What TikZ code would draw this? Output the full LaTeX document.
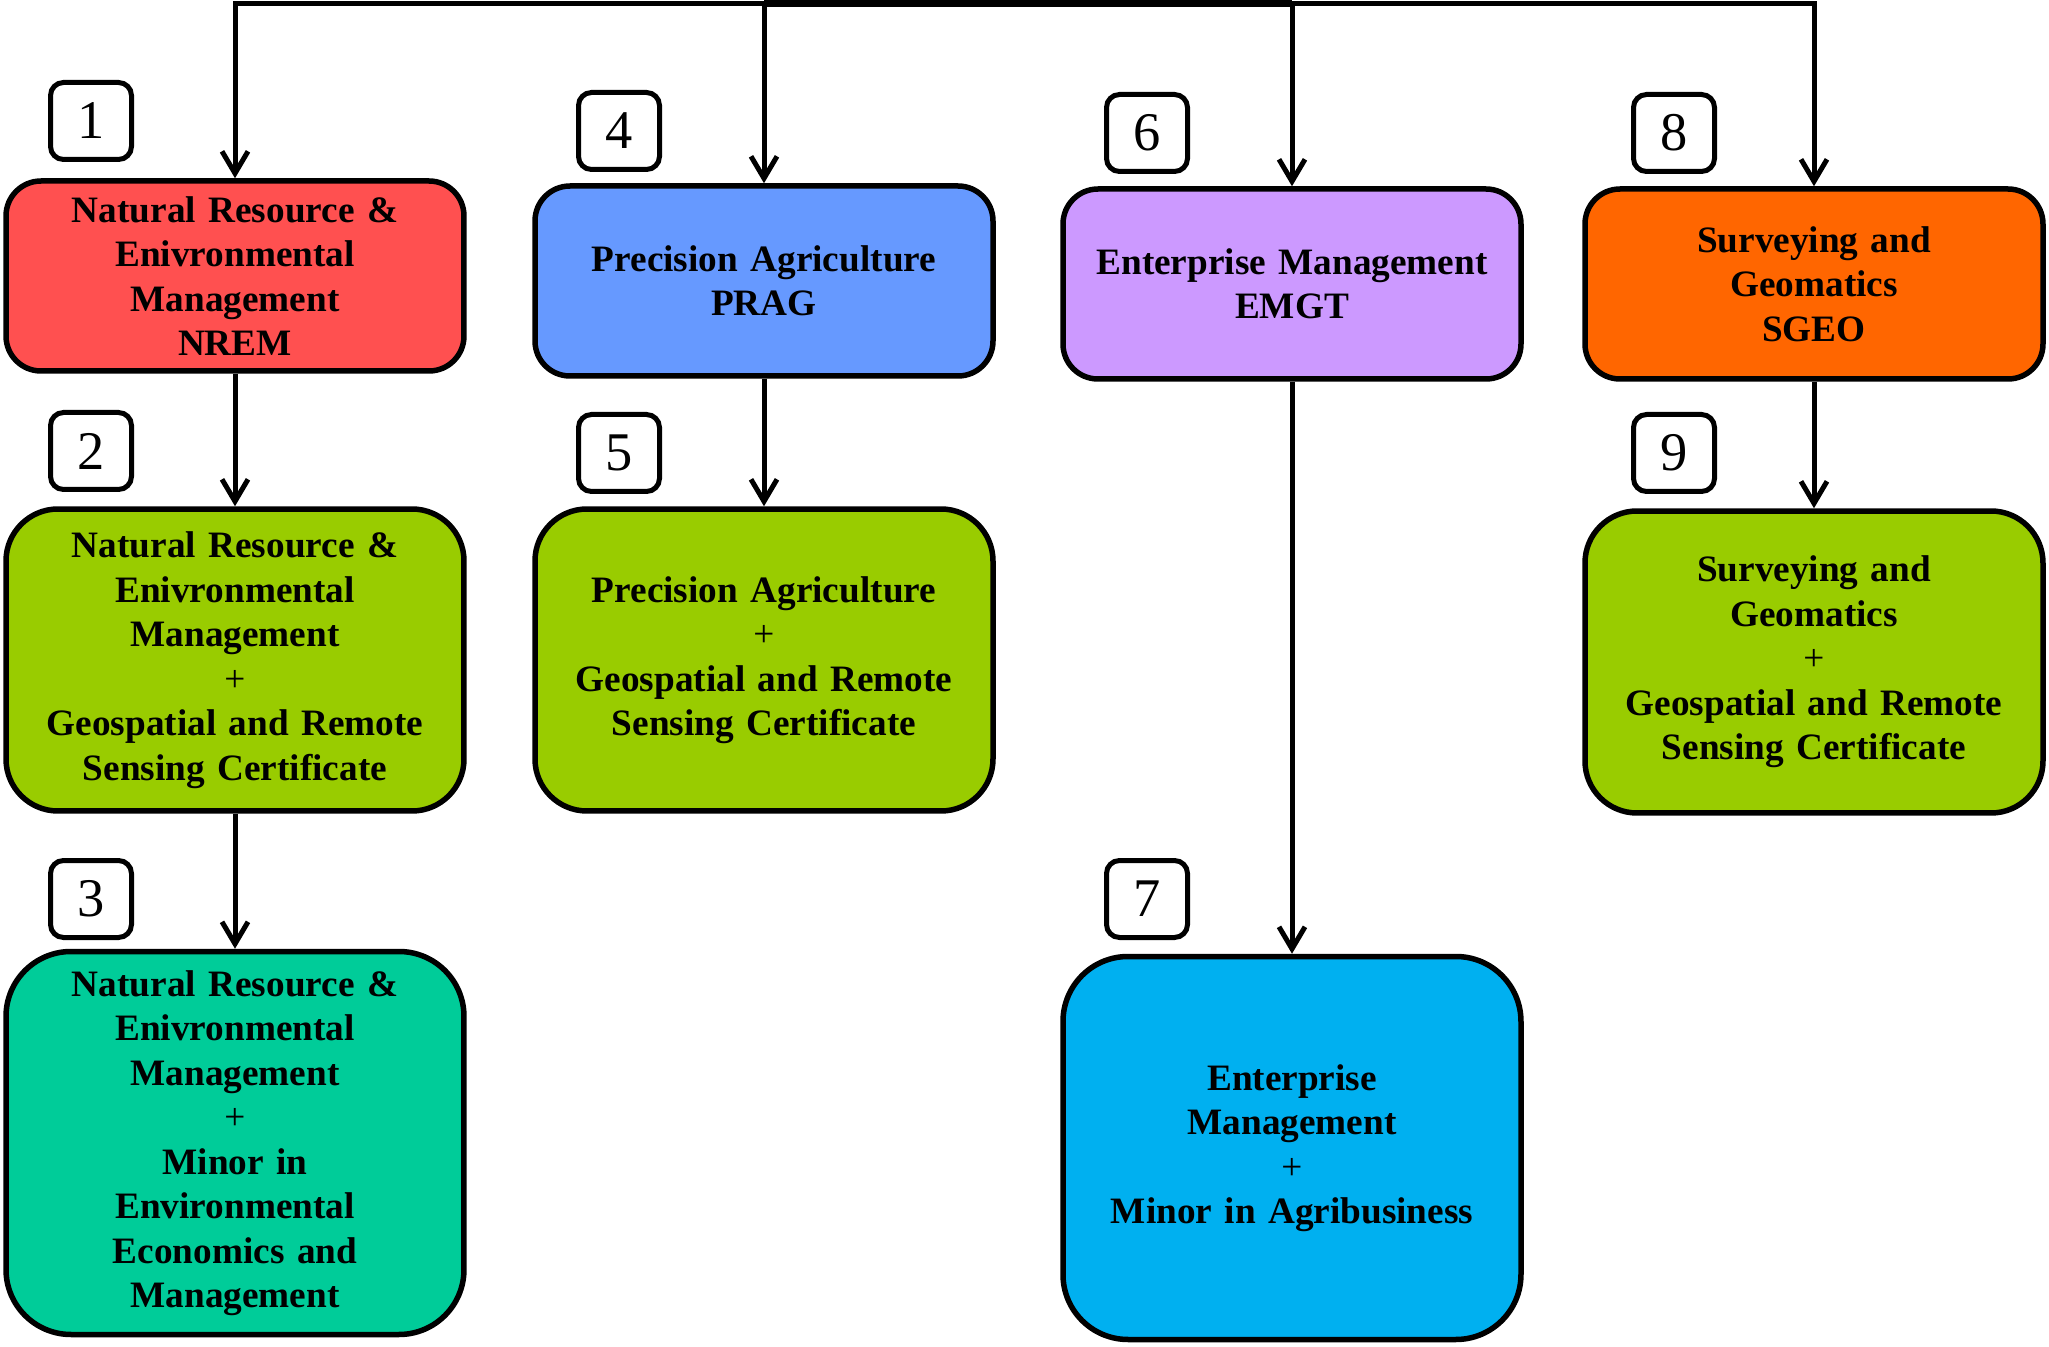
\documentclass[tikz,border=0pt]{standalone}
\usepackage{fontspec}
\setmainfont{Liberation Serif}
\usepackage{color}
\usepackage{tikz}
\usetikzlibrary{arrows.meta}
\usetikzlibrary{positioning}
\definecolor{nremred}{HTML}{FF5050}
\definecolor{pragblue}{HTML}{6699FF}
\definecolor{emgtpurple}{HTML}{CC99FF}
\definecolor{sgeoorange}{HTML}{FF6600}
\definecolor{certgreen}{HTML}{99CC00}
\definecolor{minorteal}{HTML}{00CC99}
\definecolor{minorblue}{HTML}{00B0F0}

\begin{document}
\begin{tikzpicture}[x=0.1mm,y=-0.1mm,
    prog/.style={draw=black,line width=0.55mm,align=center,inner sep=0pt,
      text width=44mm,minimum width=45.8mm,
      font=\bfseries\fontsize{10.6}{12.66}\selectfont},
    major/.style={prog,minimum height=19mm,rounded corners=3.5mm},
    cert/.style={prog,minimum height=30.2mm,rounded corners=5.2mm,fill=certgreen},
    minor/.style={prog,minimum height=38.3mm,rounded corners=6.5mm},
    numbox/.style={draw=black,line width=0.5mm,rounded corners=1.3mm,fill=white,
      minimum width=8.1mm,minimum height=7.7mm,inner sep=0pt,
      font=\fontsize{15.5}{18}\selectfont},
    arr/.style={line width=0.5mm,-{Straight Barb[length=2.2mm,width=2.6mm]}}]
  \useasboundingbox (0,0) rectangle (2049,1347);

  % first row: the four majors
  \node[major,fill=nremred] (nrem) at (235,276)
    {Natural Resource \&\\Enivronmental\\Management\\NREM};
  \node[major,fill=pragblue] (prag) at (764,281)
    {Precision Agriculture\\PRAG};
  \node[major,fill=emgtpurple] (emgt) at (1292,284)
    {Enterprise Management\\EMGT};
  \node[major,fill=sgeoorange] (sgeo) at (1814,284)
    {Surveying and\\Geomatics\\SGEO};

  % second row: with the certificate
  \node[cert] (nremcert) at (235,660)
    {Natural Resource \&\\Enivronmental\\Management\\{\mdseries +}\\Geospatial and Remote\\Sensing Certificate};
  \node[cert] (pragcert) at (764,660)
    {Precision Agriculture\\{\mdseries +}\\Geospatial and Remote\\Sensing Certificate};
  \node[cert] (sgeocert) at (1814,662)
    {Surveying and\\Geomatics\\{\mdseries +}\\Geospatial and Remote\\Sensing Certificate};

  % third row: with a minor
  \node[minor,fill=minorteal] (nremminor) at (235,1143)
    {Natural Resource \&\\Enivronmental\\Management\\{\mdseries +}\\Minor in\\Environmental\\Economics and\\Management};
  \node[minor,fill=minorblue] (emgtminor) at (1292,1148)
    {Enterprise\\Management\\{\mdseries +}\\Minor in Agribusiness};

  % numbers
  \foreach \n/\px/\py in {1/91/121,2/91/451,3/91/899,4/619/131,5/619/453,
                          6/1147/133,7/1147/899,8/1674/133,9/1674/453}
    \node[numbox] (num\n) at (\px,\py) {\n};

  % top line
  \coordinate (top1) at (235,4);
  \coordinate (top2) at (764,4);
  \coordinate (top3) at (1292,4);
  \coordinate (top4) at (1814,4);
  \draw[line width=0.5mm,line cap=rect] (top1) -- (top4);
  \draw[line width=0.7mm] (top2) -- (top3);

  \draw[arr] (top1) -- (nrem.north);
  \draw[arr] (top2) -- (prag.north);
  \draw[arr] (top3) -- (emgt.north);
  \draw[arr] (top4) -- (sgeo.north);
  \draw[arr] (nrem) -- (nremcert);
  \draw[arr] (nremcert) -- (nremminor);
  \draw[arr] (prag) -- (pragcert);
  \draw[arr] (emgt) -- (emgtminor);
  \draw[arr] (sgeo) -- (sgeocert);
\end{tikzpicture}
\end{document}
